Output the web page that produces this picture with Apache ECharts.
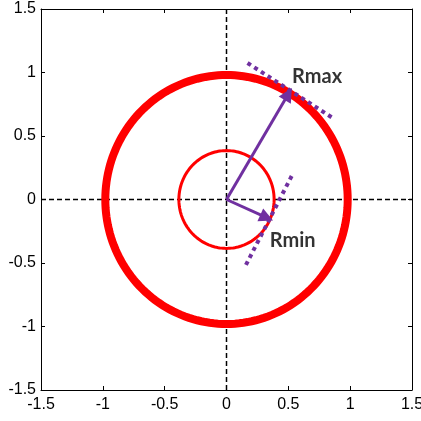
<!DOCTYPE html>
<html>
<head>
<meta charset="utf-8">
<script src="https://cdn.jsdelivr.net/npm/echarts@6/dist/echarts.min.js"></script>
<style>
  html, body { margin: 0; padding: 0; background: #fff; }
  #chart { width: 421px; height: 421px; }
</style>
</head>
<body>
<div id="chart"></div>
<script>
// Axis range and ticks
const axisMin = -1.5;
const axisMax = 1.5;
const tickStep = 0.5;

// Circles: radius of the outer (thick) and inner (thin) ring
const circleRadii = [0.98, 0.385];
const circleWidths = [8, 3];

// Radius vectors: origin -> tip
const arrowNames = ['Rmax', 'Rmin'];
const arrowTips = [[0.50, 0.83], [0.325, -0.143]];

// Tangent (dotted) segments at each tip
const tangentSegments = [
  [[0.17, 1.075], [0.87, 0.635]],
  [[0.527, 0.185], [0.144, -0.54]]
];

// Label anchor positions (left/middle of text)
const labelPositions = [[0.53, 0.97], [0.35, -0.32]];

const purple = '#7030A0';
const red = '#FF0000';

const chart = echarts.init(document.getElementById('chart'), null, { renderer: 'canvas' });

function circleRender(params, api) {
  const cx = api.value(0), cy = api.value(1), r = api.value(2), w = api.value(3);
  const pts = [];
  for (let a = 0; a <= 360; a += 2) {
    const t = a * Math.PI / 180;
    pts.push(api.coord([cx + r * Math.cos(t), cy + r * Math.sin(t)]));
  }
  return {
    type: 'polygon',
    shape: { points: pts },
    style: { fill: 'none', stroke: red, lineWidth: w }
  };
}

const baseAxis = {
  type: 'value',
  min: axisMin,
  max: axisMax,
  interval: tickStep,
  splitLine: { show: false },
  axisLine: { show: true, onZero: false, lineStyle: { color: '#000', width: 1 } },
  axisTick: { show: true, inside: true, length: 4, lineStyle: { color: '#000' } }
};

const labelStyle = {
  color: '#000',
  fontFamily: 'Liberation Sans, Arial, sans-serif',
  fontSize: 16,
  formatter: v => String(v)
};

chart.setOption({
  animation: false,
  grid: { left: 41, top: 9, width: 371, height: 381, containLabel: false, outerBoundsMode: 'none' },
  xAxis: [
    Object.assign({}, baseAxis, { position: 'bottom', axisLabel: Object.assign({ margin: 7 }, labelStyle) }),
    Object.assign({}, baseAxis, { position: 'top', axisLabel: { show: false } })
  ],
  yAxis: [
    Object.assign({}, baseAxis, { position: 'left', axisLabel: Object.assign({ margin: 5, padding: [5, 0, 0, 0] }, labelStyle) }),
    Object.assign({}, baseAxis, { position: 'right', axisLabel: { show: false } })
  ],
  series: [
    {
      type: 'line',
      data: [[axisMin, 0], [axisMax, 0]],
      symbol: 'none',
      lineStyle: { color: '#000', width: 1.5, type: [5, 3] },
      z: 1
    },
    {
      type: 'line',
      data: [[0, axisMin], [0, axisMax]],
      symbol: 'none',
      lineStyle: { color: '#000', width: 1.5, type: [5, 3] },
      z: 1
    },
    {
      type: 'custom',
      renderItem: circleRender,
      data: circleRadii.map((r, i) => [0, 0, r, circleWidths[i]]),
      encode: { x: 0, y: 1 },
      z: 2
    },
    {
      type: 'lines',
      coordinateSystem: 'cartesian2d',
      symbol: ['none', 'triangle'],
      symbolSize: [13, 14],
      lineStyle: { color: purple, width: 3, opacity: 1 },
      data: arrowTips.map((t, i) => ({ name: arrowNames[i], coords: [[0, 0], t] })),
      z: 4
    },
    {
      type: 'lines',
      coordinateSystem: 'cartesian2d',
      symbol: 'none',
      lineStyle: { color: purple, width: 4, type: [4, 4], cap: 'butt', opacity: 1 },
      data: tangentSegments.map(s => ({ coords: s })),
      z: 3
    },
    {
      type: 'scatter',
      symbolSize: 0,
      data: labelPositions.map((p, i) => ({ name: arrowNames[i], value: p })),
      label: {
        show: true,
        position: 'right',
        distance: 0,
        formatter: '{b}',
        color: '#000',
        fontFamily: 'Lato, sans-serif',
        fontWeight: 'bold',
        fontSize: 20
      },
      z: 5
    }
  ]
});
</script>
</body>
</html>
